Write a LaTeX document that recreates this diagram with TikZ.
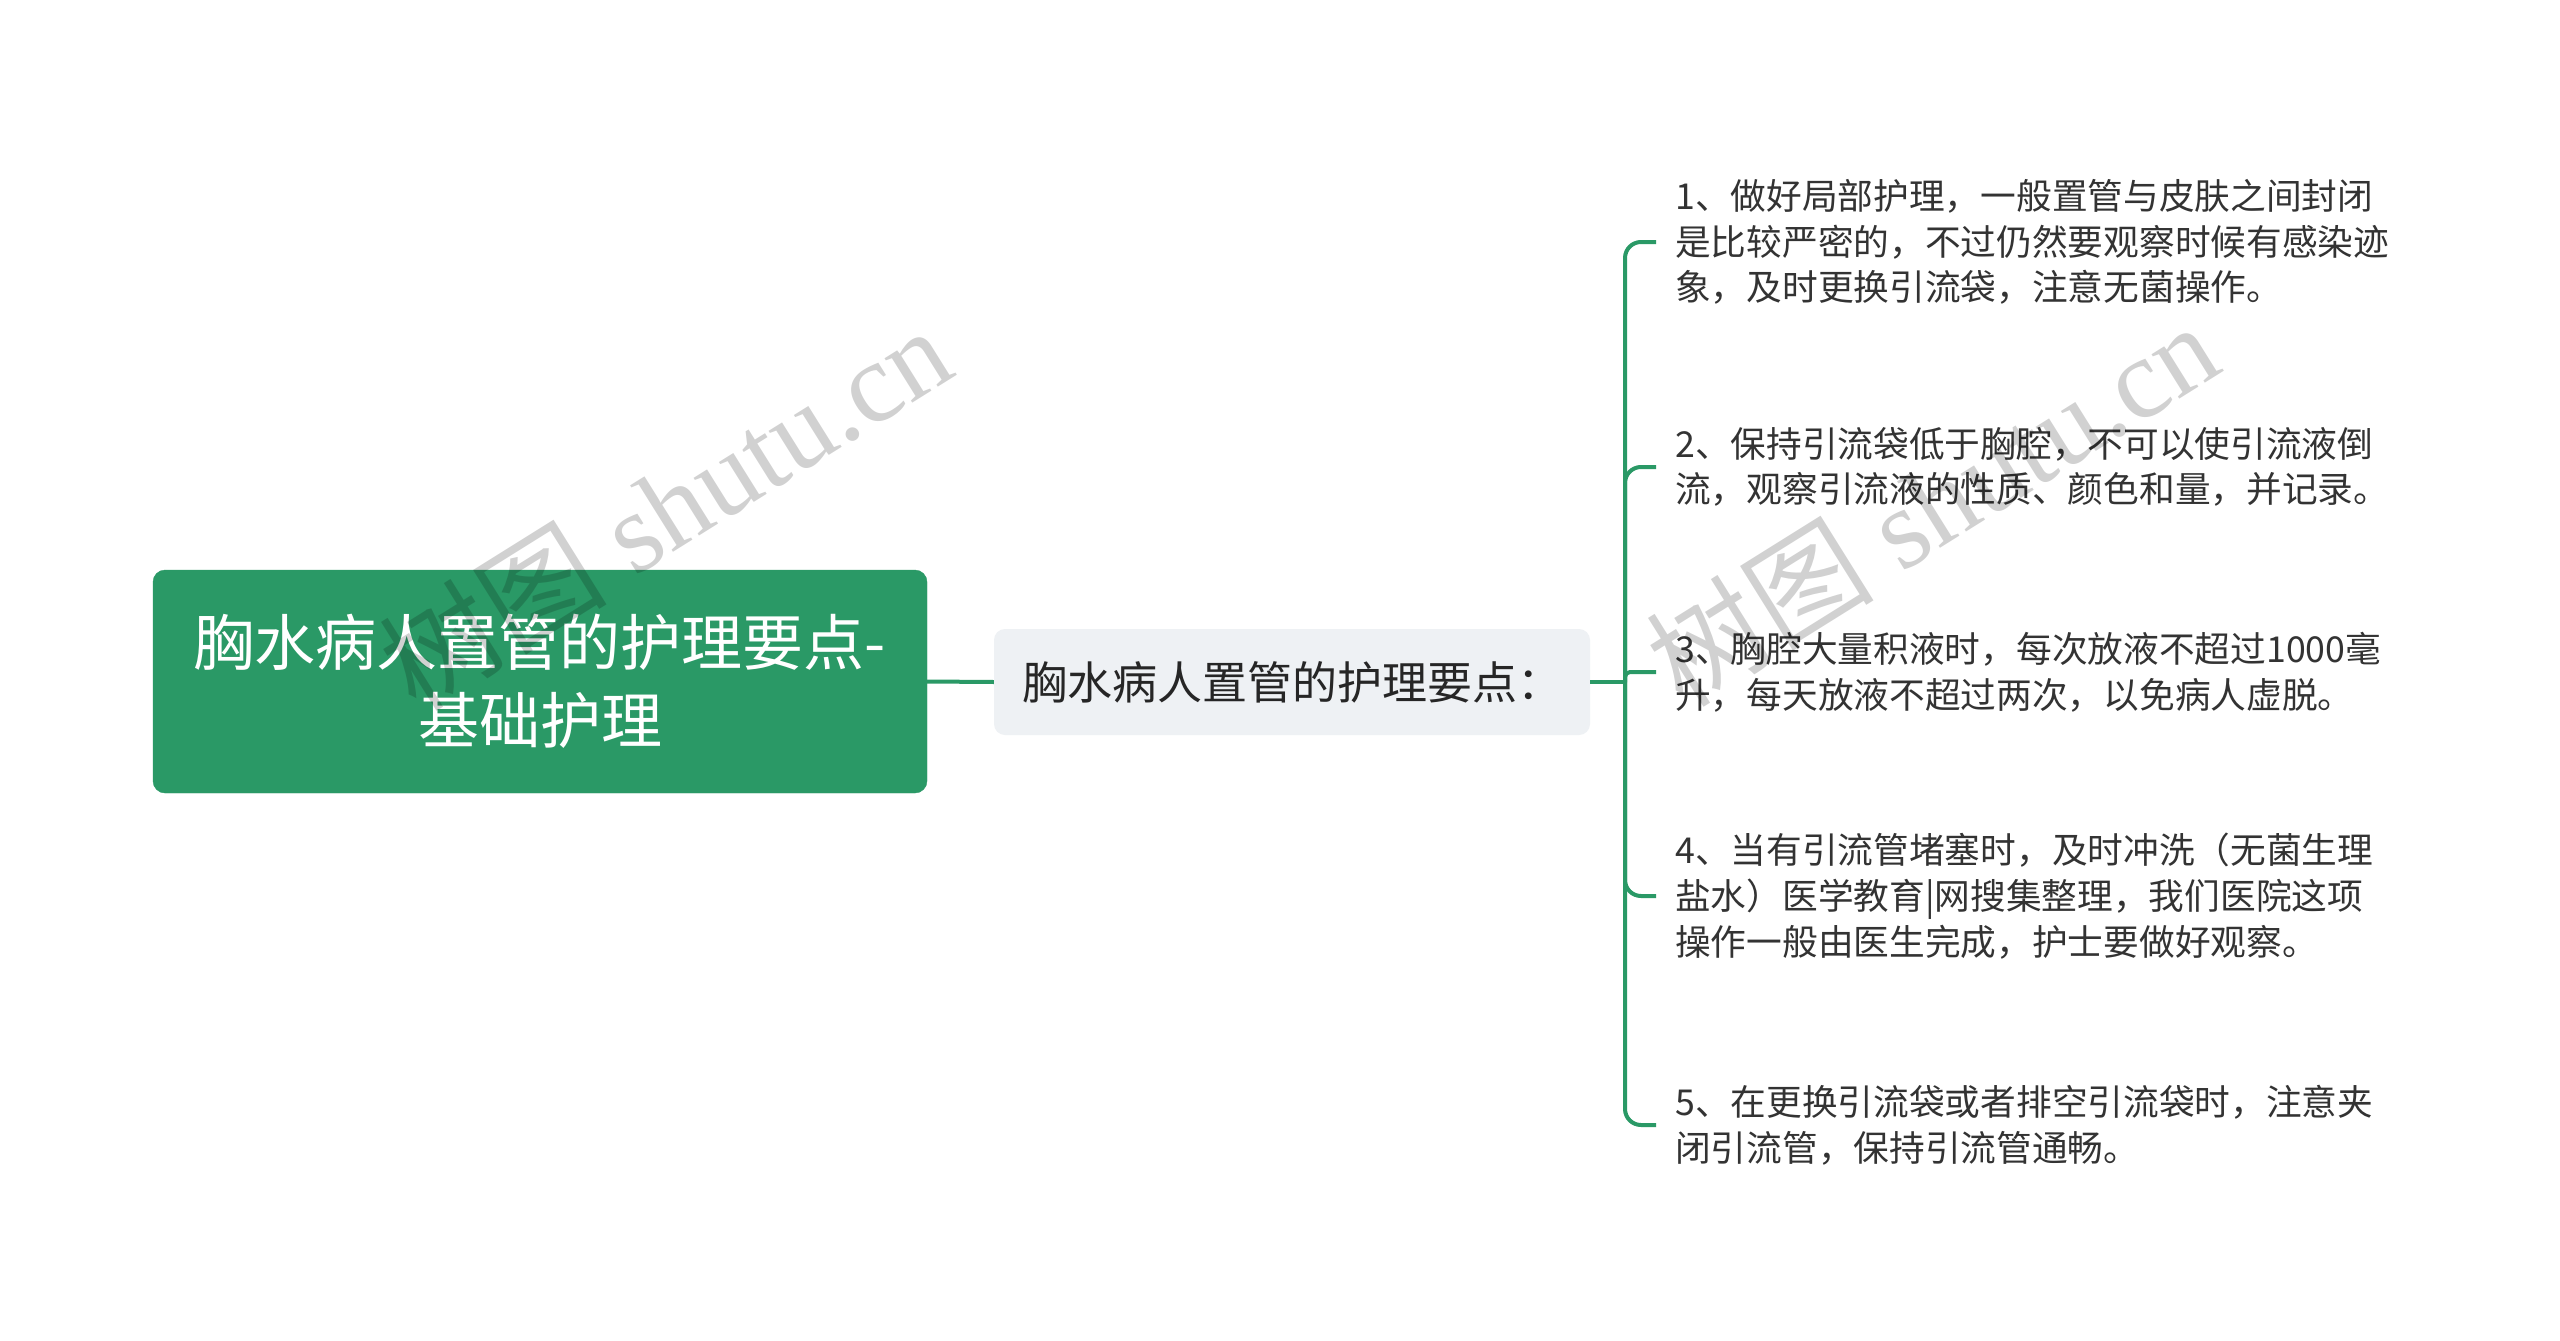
\documentclass[tikz,border=0pt]{standalone}
\usepackage{fontspec}
\newfontfamily\cjk{Noto Sans CJK SC}
\newfontfamily\wmlat{Liberation Serif}
\definecolor{mmgreen}{HTML}{2A9966}
\definecolor{midfill}{HTML}{EEF1F4}
\definecolor{leaftext}{HTML}{333333}
\tikzset{
  rootbox/.style={fill=mmgreen, draw=mmgreen, rounded corners=12pt, minimum width=774pt, minimum height=223pt, align=center, text=white, inner sep=0pt, font=\cjk\fontsize{61}{78}\selectfont},
  midbox/.style={fill=midfill, draw=none, rounded corners=11pt, minimum width=596pt, minimum height=106pt, align=center, text=black!85, inner sep=0pt, font=\cjk\fontsize{45}{56}\selectfont},
  leafbox/.style={anchor=west, align=left, inner xsep=19pt, inner ysep=0pt, text=leaftext, font=\cjk\fontsize{35.7}{45.7}\selectfont},
  conn/.style={draw=mmgreen, line width=4pt},
  hook/.style={conn, rounded corners=16pt},
  wm/.style={text=black, text opacity=0.18, font=\wmlat\fontsize{114}{114}\selectfont, inner sep=0pt}
}
\begin{document}
\begin{tikzpicture}[x=1pt, y=-1pt]
\useasboundingbox (0,0) rectangle (2560,1341);
\clip (0,0) rectangle (2560,1341);
\fill[white] (0,0) rectangle (2560,1341);

\node[rootbox] (root) at (540,681.5) {胸水病人置管的护理要点-\\基础护理};
\node[midbox] (mid) at (1292,682) {胸水病人置管的护理要点：};
\coordinate (vbar) at (1625,682);

\node[leafbox] (l1) at (1656,242) {1、做好局部护理，一般置管与皮肤之间封闭\\是比较严密的，不过仍然要观察时候有感染迹\\象，及时更换引流袋，注意无菌操作。};
\node[leafbox] (l2) at (1656,467) {2、保持引流袋低于胸腔，不可以使引流液倒\\流，观察引流液的性质、颜色和量，并记录。};
\node[leafbox] (l3) at (1656,672) {3、胸腔大量积液时，每次放液不超过1000毫\\升，每天放液不超过两次，以免病人虚脱。};
\node[leafbox] (l4) at (1656,896) {4、当有引流管堵塞时，及时冲洗（无菌生理\\盐水）医学教育|网搜集整理，我们医院这项\\操作一般由医生完成，护士要做好观察。};
\node[leafbox] (l5) at (1656,1125) {5、在更换引流袋或者排空引流袋时，注意夹\\闭引流管，保持引流管通畅。};

\draw[conn] (root.east) -- (mid.west);
\draw[conn] (mid.east) -- (vbar);
\draw[hook] (vbar) |- (l1.west);
\draw[hook] (vbar) |- (l2.west);
\draw[conn, rounded corners=5pt] (vbar) |- (l3.west);
\draw[hook] (vbar) |- (l4.west);
\draw[hook] (vbar) |- (l5.west);

\node[wm, rotate=32] (wm1) at (665,507) {{\cjk 树图} shutu.cn};
\node[wm, rotate=32] (wm2) at (1932,503) {{\cjk 树图} shutu.cn};
\end{tikzpicture}
\end{document}
